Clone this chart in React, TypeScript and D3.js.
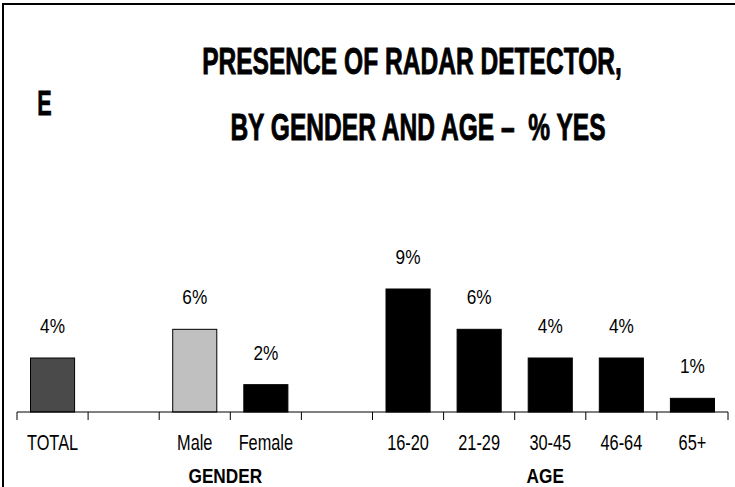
import React from "react";
import * as d3 from "d3";

const categories = ["TOTAL", "", "Male", "Female", "", "16-20", "21-29", "30-45", "46-64", "65+"];
const values: (number | null)[] = [3.95, null, 6.05, 2.0, null, 9.0, 6.05, 3.95, 3.95, 1.0];
const barColors = ["#4a4a4a", "none", "#c0c0c0", "#000000", "none", "#000000", "#000000", "#000000", "#000000", "#000000"];
const groups = [
  { label: "GENDER", from: 2, to: 3 },
  { label: "AGE", from: 5, to: 9 },
];
const titleLines = ["PRESENCE OF RADAR DETECTOR,", "BY GENDER AND AGE –  % YES"];
const panelLetter = "E";

const W = 735;
const H = 487;
const FONT = "'Liberation Sans', Arial, Helvetica, sans-serif";

function NText(props: {
  x: number;
  y: number;
  sx: number;
  size: number;
  bold?: boolean;
  heavy?: number;
  anchor?: string;
  children: React.ReactNode;
}) {
  const { x, y, sx, size, bold, heavy = 0, anchor = "middle", children } = props;
  return (
    <text
      transform={`translate(${x},${y}) scale(${sx},1)`}
      fontSize={size}
      fontWeight={bold ? "bold" : "normal"}
      textAnchor={anchor}
      fill="#000"
      stroke={heavy ? "#000" : "none"}
      strokeWidth={heavy}
      style={{ whiteSpace: "pre" }}
    >
      {children}
    </text>
  );
}

export default function App() {
  const x = d3
    .scaleBand<number>()
    .domain(categories.map((_, i) => i))
    .range([17, 728])
    .paddingInner(0.38)
    .paddingOuter(0.19);
  const step = x.step();
  const left = 17;
  const baseline = 412;
  const y = d3.scaleLinear().domain([0, 9]).range([baseline, 289]);
  const ticks = d3.range(categories.length + 1).map((i) => left + i * step);

  return (
    <svg width={W} height={H} style={{ position: "absolute", left: 0, top: 0 }} fontFamily={FONT}>
      <rect x={0} y={0} width={W} height={H} fill="#fff" />
      <line x1={2} y1={4} x2={W} y2={4} stroke="#000" strokeWidth={2} />
      <line x1={3} y1={4} x2={3} y2={H} stroke="#000" strokeWidth={2} />
      <NText x={44.5} y={115} sx={0.6} size={36} bold heavy={0.8}>
        {panelLetter}
      </NText>
      {titleLines.map((t, i) => (
        <NText key={i} x={i === 0 ? 412 : 418} y={74 + i * 66} sx={0.655} size={37.5} bold heavy={0.9}>
          {t}
        </NText>
      ))}
      {values.map((v, i) =>
        v == null ? null : (
          <g key={i}>
            <rect
              x={x(i)!}
              y={y(v)}
              width={x.bandwidth()}
              height={baseline - y(v)}
              fill={barColors[i]}
              stroke="#000"
              strokeWidth={1}
            />
            <NText x={x(i)! + x.bandwidth() / 2} y={y(v) - 25} sx={0.84} size={20.5}>
              {Math.round(v) + "%"}
            </NText>
          </g>
        )
      )}
      <line x1={left} y1={baseline} x2={ticks[ticks.length - 1]} y2={baseline} stroke="#000" strokeWidth={1} />
      {ticks.map((t, i) => (
        <line key={i} x1={t} y1={baseline} x2={t} y2={baseline + 8} stroke="#000" strokeWidth={1} />
      ))}
      {categories.map((c, i) => (
        <NText key={i} x={x(i)! + x.bandwidth() / 2} y={450} sx={0.76} size={21.5}>
          {c}
        </NText>
      ))}
      {groups.map((g, i) => (
        <NText
          key={i}
          x={(left + g.from * step + left + (g.to + 1) * step) / 2 - 5}
          y={483}
          sx={0.82}
          size={21}
          bold
        >
          {g.label}
        </NText>
      ))}
    </svg>
  );
}
